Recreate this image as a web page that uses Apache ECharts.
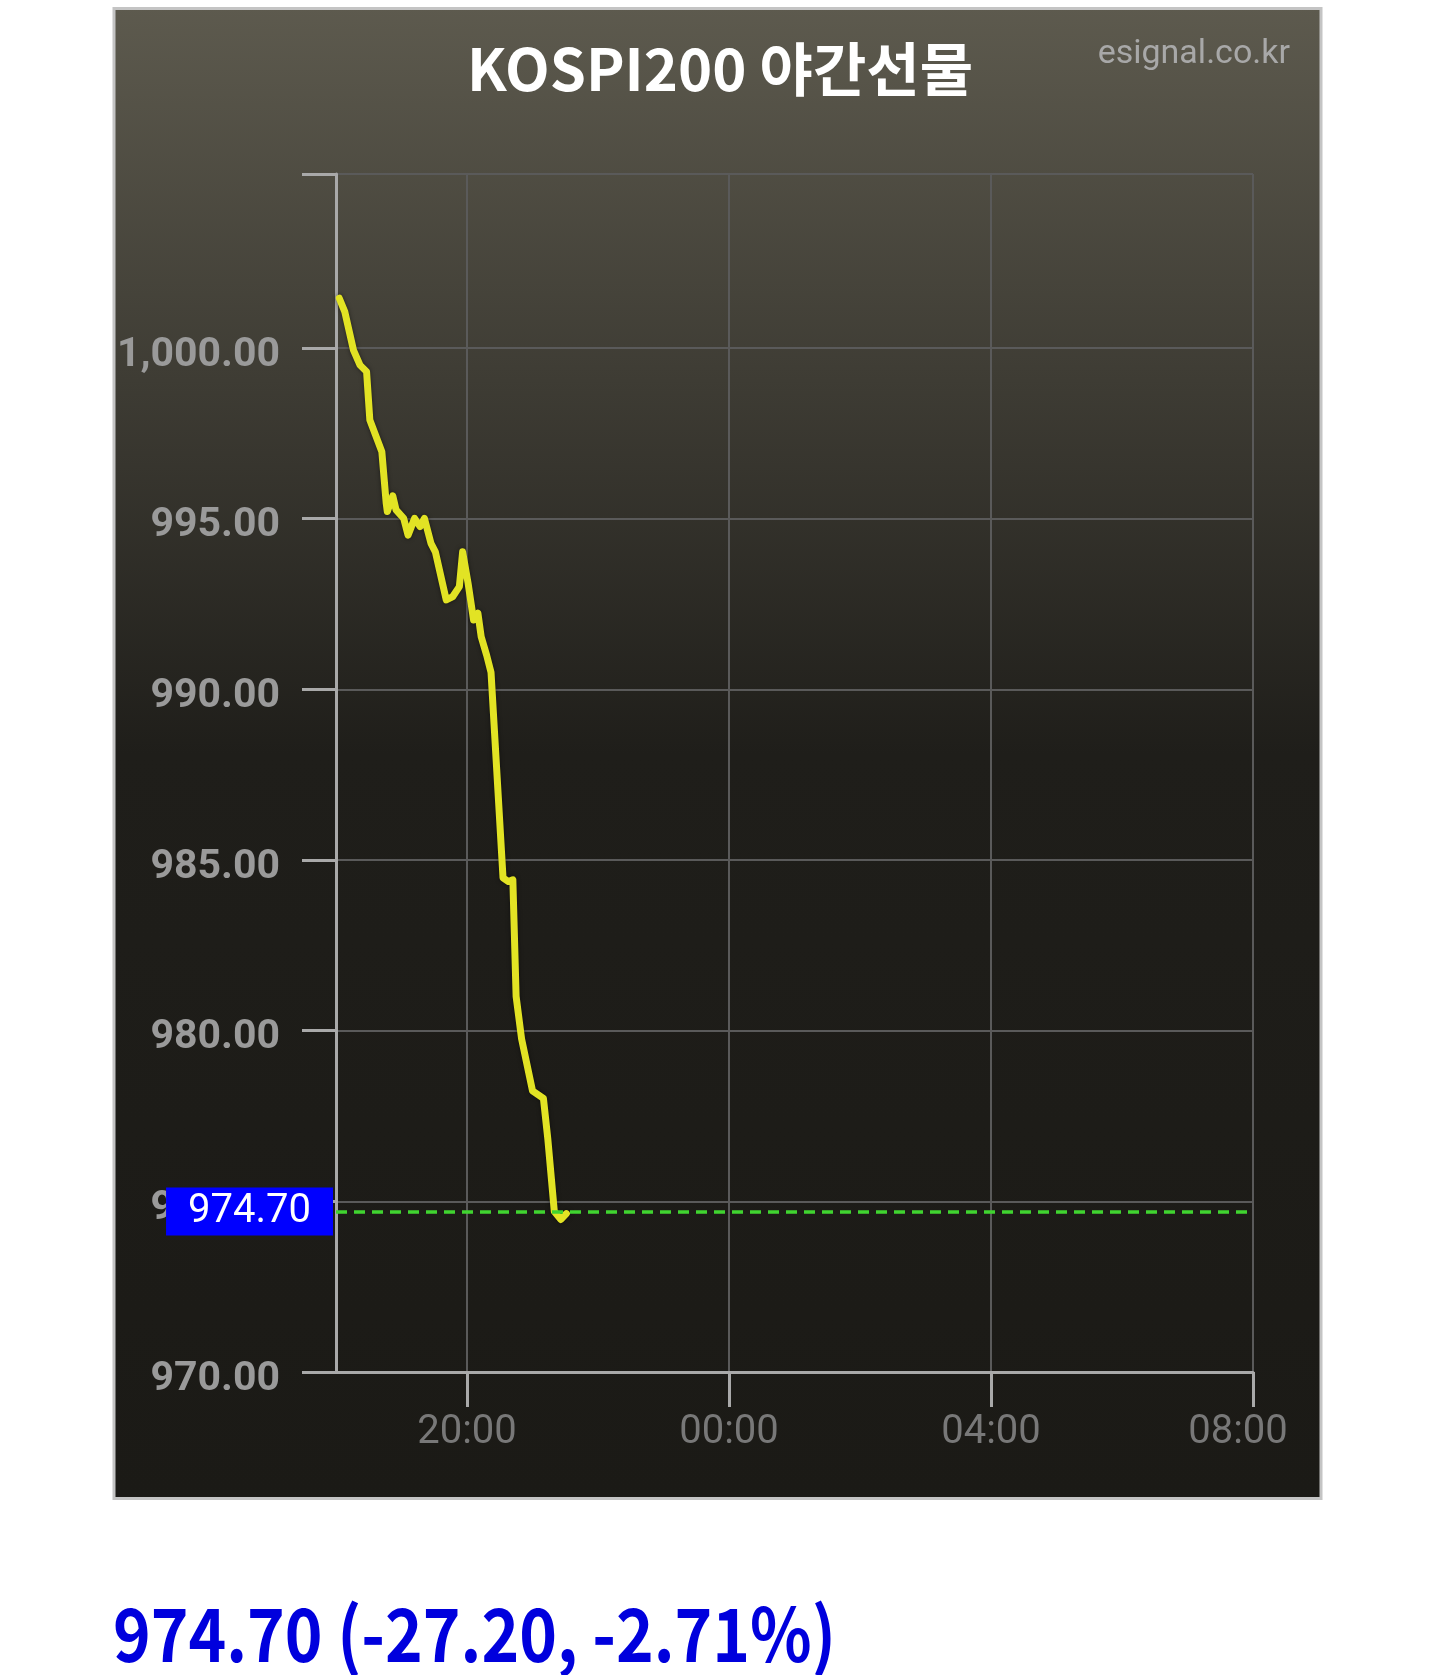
<!DOCTYPE html>
<html><head><meta charset="utf-8">
<script src="https://cdn.jsdelivr.net/npm/echarts@6/dist/echarts.min.js"></script>
<style>html,body{margin:0;padding:0;background:#fff}#c{width:1440px;height:1675px}</style>
</head><body><div id="c"></div>
<script>
// ---- data ----
const times = ['18:03','18:08','18:16','18:22','18:28','18:31','18:42','18:46','18:47','18:52','18:55','19:02','19:06','19:12','19:17','19:21','19:27','19:31','19:41','19:47','19:53','19:56','20:01','20:06','20:10','20:13','20:18','20:22','20:33','20:38','20:42','20:45','20:50','21:00','21:10','21:14','21:20','21:26','21:31'];
const prices = [1001.46,1001.07,999.94,999.50,999.31,997.89,996.96,995.45,995.21,995.67,995.26,995.01,994.52,995.01,994.77,995.01,994.28,994.03,992.62,992.72,993.01,994.03,993.11,992.03,992.23,991.54,991.00,990.50,984.48,984.37,984.42,981.00,979.76,978.24,978.02,976.84,974.70,974.47,974.64];
const lastPrice = 974.70;
const change = -27.20;
const changePct = -2.71;
const titleText = 'KOSPI200 야간선물';
const sourceText = 'esignal.co.kr';
const yTicks = [970, 975, 980, 985, 990, 995, 1000];
const yMin = 970;
const yMax = 1005.1;
const sessionStart = '18:00';
const sessionEnd = '08:00';
const xTickLabels = ['20:00', '00:00', '04:00', '08:00'];

// ---- helpers ----
const base = 18 * 60;
function toMin(t) {
  const p = t.split(':').map(Number);
  return ((p[0] * 60 + p[1] - base) + 1440) % 1440;
}
const xMin = toMin(sessionStart);
const xMax = toMin(sessionEnd) === 0 ? 1440 : toMin(sessionEnd);
const xTickVals = xTickLabels.map(t => { const v = toMin(t); return v === 0 ? 1440 : v; });
const fmtY = v => Number(v).toLocaleString('en-US', {minimumFractionDigits: 2, maximumFractionDigits: 2});
const fmtSigned = v => (v > 0 ? '+' : '') + v.toFixed(2);
const bottomText = lastPrice.toFixed(2) + ' (' + fmtSigned(change) + ', ' + fmtSigned(changePct) + '%)';

const chart = echarts.init(document.getElementById('c'), null, {renderer: 'canvas'});
const axisGray = '#a9a9a9';
const gridGray = '#5a5a5a';
const yLabelStyle = {color: '#9a9a9a', fontSize: 41, fontWeight: 'bold', fontFamily: 'Roboto'};
const option = {
  backgroundColor: '#ffffff',
  animation: false,
  graphic: [{
    type: 'rect', z: -100, silent: true,
    shape: {x: 114, y: 8.5, width: 1207, height: 1490},
    style: {
      fill: new echarts.graphic.LinearGradient(0, 0, 0, 1, [
        {offset: 0, color: '#5d5a4e'},
        {offset: 0.5, color: '#1f1e1a'},
        {offset: 1, color: '#1b1a16'}
      ]),
      stroke: '#c4c4c4', lineWidth: 3
    }
  }, {
    type: 'text', x: 113, y: 1597, scaleX: 0.865, scaleY: 1, silent: true,
    style: {
      x: 0, y: 0, text: bottomText,
      font: 'bold 74px "Noto Sans CJK KR"',
      fill: '#0000dd'
    }
  }],
  title: [
    {text: titleText, left: 'center', top: 40, padding: 0,
     textStyle: {color: '#ffffff', fontSize: 58, lineHeight: 58, fontWeight: 'bold', fontFamily: 'Noto Sans CJK KR'}},
    {text: sourceText, right: 150, top: 37, padding: 0,
     textStyle: {color: '#a8a8a8', fontSize: 34, lineHeight: 34, fontWeight: 'normal', fontFamily: 'Roboto'}}
  ],
  grid: {left: 336, right: 187, top: 174, bottom: 303, containLabel: false},
  xAxis: {
    type: 'value', min: xMin, max: xMax,
    axisLine: {show: true, onZero: false, lineStyle: {color: axisGray, width: 3}},
    axisTick: {show: true, customValues: xTickVals, length: 35, lineStyle: {color: axisGray, width: 3}},
    axisLabel: {
      customValues: xTickVals, margin: 41, color: '#787878', fontSize: 40, fontFamily: 'Roboto',
      formatter: v => {
        const i = xTickVals.indexOf(v);
        const s = i >= 0 ? xTickLabels[i] : '';
        return i === xTickVals.length - 1 ? '{last|' + s + '}' : s;
      },
      rich: {last: {padding: [0, 30, 0, 0], color: '#787878', fontSize: 40, fontFamily: 'Roboto'}}
    },
    splitLine: {show: true, lineStyle: {color: gridGray, width: 2}}
  },
  yAxis: {
    type: 'value', min: yMin, max: yMax,
    axisLine: {show: true, onZero: false, lineStyle: {color: axisGray, width: 3}},
    axisTick: {show: true, customValues: yTicks.concat([yMax]), length: 34, lineStyle: {color: axisGray, width: 3}},
    axisLabel: Object.assign({
      customValues: yTicks, margin: 56,
      formatter: v => '{y|' + fmtY(v) + '}',
      rich: {y: Object.assign({padding: [15, 0, 0, 0]}, yLabelStyle)}
    }, yLabelStyle),
    splitLine: {show: true, lineStyle: {color: gridGray, width: 2}}
  },
  series: [{
    type: 'line',
    data: times.map((t, i) => [toMin(t), prices[i]]),
    showSymbol: false,
    symbol: 'none',
    lineStyle: {color: '#e2e324', width: 7, shadowColor: 'rgba(0,0,0,0.5)', shadowBlur: 4, cap: 'round', join: 'round'},
    markLine: {
      silent: true,
      symbol: ['none', 'none'],
      data: [{yAxis: lastPrice}],
      lineStyle: {color: '#40d430', width: 3.5, type: [11, 7]},
      label: {
        show: true, position: 'start', distance: 3,
        formatter: lastPrice.toFixed(2),
        color: '#ffffff', backgroundColor: '#0000ff',
        fontSize: 40, lineHeight: 40, fontFamily: 'Roboto',
        padding: [4, 22, 4, 22]
      }
    }
  }]
};
chart.setOption(option);
</script>
</body></html>
